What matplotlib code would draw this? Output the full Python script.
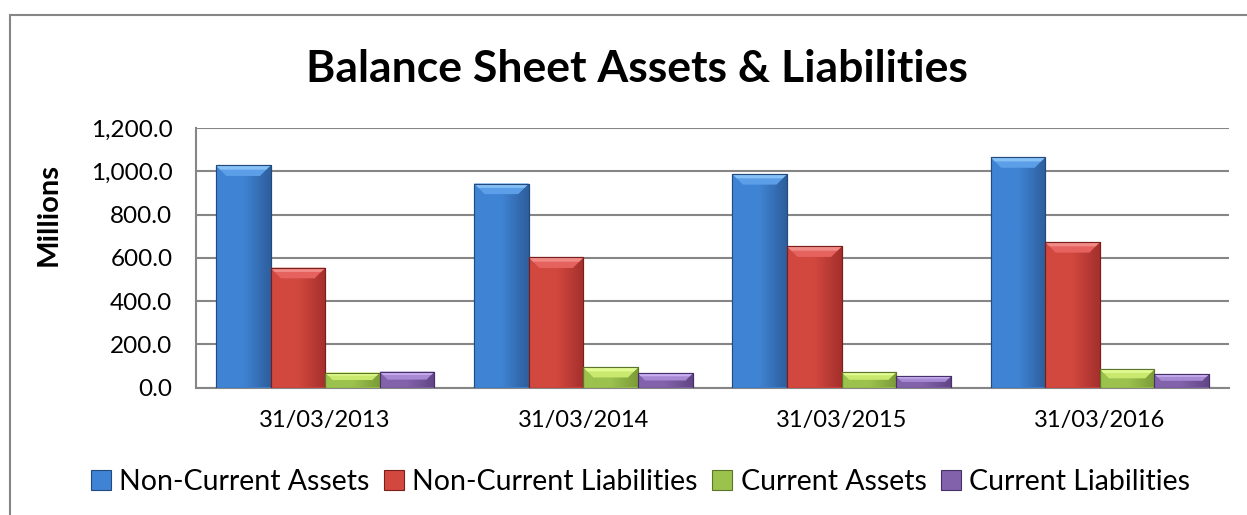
import matplotlib
matplotlib.use('Agg')
import matplotlib.pyplot as plt
import numpy as np
from matplotlib.patches import Polygon, Rectangle, Patch
from matplotlib.colors import LinearSegmentedColormap

# ---------------- data ----------------
categories = ['31/03/2013', '31/03/2014', '31/03/2015', '31/03/2016']
series_names = ['Non-Current Assets', 'Non-Current Liabilities',
                'Current Assets', 'Current Liabilities']
non_current_assets = [1028, 944, 988, 1066]
non_current_liabilities = [554, 602, 653, 673]
current_assets = [69, 93, 71, 85]
current_liabilities = [73, 65, 52, 62]
y_ticks = [0, 200, 400, 600, 800, 1000, 1200]
title_text = 'Balance Sheet Assets & Liabilities'
y_label = 'Millions'

series_values = [non_current_assets, non_current_liabilities,
                 current_assets, current_liabilities]

# styles: (face light, face dark, top bevel, top highlight, edge)
styles = [
    ('#3F84D4', '#2E5E9C', '#5C9FE8', '#86C0F4', '#234A7E'),
    ('#D2483F', '#A52F2C', '#E5625E', '#F08A86', '#7A1E1C'),
    ('#9CC24E', '#7C9C38', '#C9E86E', '#E2FA92', '#5B7628'),
    ('#8262AA', '#614585', '#A889D4', '#C8AEF0', '#45306A'),
]

plt.rcParams['font.family'] = ['Lato', 'DejaVu Sans']

W, H = 1247, 515
fig = plt.figure(figsize=(W / 100, H / 100), dpi=100)

# outer chart frame
frame = Rectangle((10 / W, -0.05), 1.2, 1 - 15 / H + 0.05, transform=fig.transFigure,
                  fill=False, edgecolor='#868686', linewidth=1.5)
fig.patches.append(frame)

ax_left, ax_right = 196 / W, 1229 / W
ax_bottom, ax_top = 1 - 387.5 / H, 1 - 128.3 / H
ax = fig.add_axes([ax_left, ax_bottom, ax_right - ax_left, ax_top - ax_bottom])

n_cat = len(categories)
n_ser = len(series_values)
x = np.arange(n_cat)
group_w = 0.846
bar_w = group_w / n_ser

ax.set_xlim(-0.5, n_cat - 0.5)
ax.set_ylim(0, 1200)

ax_w_px = (ax_right - ax_left) * W
ax_h_px = (ax_top - ax_bottom) * H
sx = ax_w_px / n_cat      # px per x unit
sy = ax_h_px / 1200.0     # px per y unit

ax.set_yticks(y_ticks)
ax.set_yticklabels([f'{v:,.1f}' for v in y_ticks])
ax.yaxis.grid(True, color='#868686', linewidth=1.5)
ax.set_axisbelow(True)
ax.set_xticks(x)
ax.set_xticklabels(categories)
ax.tick_params(axis='y', length=0, pad=17, labelsize=17.5, colors='black')
ax.tick_params(axis='x', length=0, pad=16, labelsize=17, colors='black')
for s in ['top', 'right']:
    ax.spines[s].set_visible(False)
ax.spines['left'].set_color('#868686')
ax.spines['left'].set_linewidth(1.5)
ax.spines['bottom'].set_color('#868686')
ax.spines['bottom'].set_linewidth(1.5)

for si, vals in enumerate(series_values):
    fl, fd, tb, th, ed = styles[si]
    cmap = LinearSegmentedColormap.from_list(f'c{si}', [fl, fl, fd])
    offs = (si - (n_ser - 1) / 2) * bar_w
    bars = ax.bar(x + offs, vals, width=bar_w, color=fl, edgecolor=ed,
                  linewidth=0.8, zorder=3)
    for b in bars:
        x0 = b.get_x()
        x1 = x0 + b.get_width()
        h = b.get_height()
        hpx = h * sy
        d = min(10.5, hpx * 0.5)
        dx, dy = d / sx, d / sy
        grad = np.linspace(0, 1, 64).reshape(1, -1)
        im = ax.imshow(grad, extent=(x0, x1, 0, h), aspect='auto', cmap=cmap,
                       origin='lower', zorder=3.1, interpolation='bilinear')
        im.set_clip_path(b)
        # top bevel
        ax.add_patch(Polygon([(x0, h), (x1, h), (x1 - dx, h - dy), (x0 + dx, h - dy)],
                             closed=True, facecolor=tb, edgecolor='none', zorder=3.3))
        hd = d * 0.4
        ax.add_patch(Polygon([(x0, h), (x1, h), (x1 - hd / sx, h - hd / sy), (x0 + hd / sx, h - hd / sy)],
                             closed=True, facecolor=th, edgecolor='none', zorder=3.35))
        ax.add_patch(Rectangle((x0, 0), x1 - x0, h, fill=False, edgecolor=ed,
                               linewidth=0.8, zorder=3.4))

ax.set_xlim(-0.5, n_cat - 0.5)
ax.set_ylim(0, 1200)

fig.text(636.5 / W, 1 - 82 / H, title_text, ha='center', va='baseline',
         fontsize=32, fontweight='bold')
fig.text(48.5 / W, 1 - 215 / H, y_label, rotation=90, ha='center', va='center',
         fontsize=21, fontweight='bold')

handles = [Patch(facecolor=styles[i][0], edgecolor=styles[i][4], linewidth=0.8)
           for i in range(n_ser)]
fig.legend(handles, series_names, loc='center', ncol=4,
           bbox_to_anchor=(640.5 / W, 1 - 482 / H), frameon=False,
           fontsize=20.5, handlelength=0.7, handleheight=0.7,
           handletextpad=0.3, columnspacing=0.5, borderaxespad=0)

fig.savefig('out.png', dpi=100)
